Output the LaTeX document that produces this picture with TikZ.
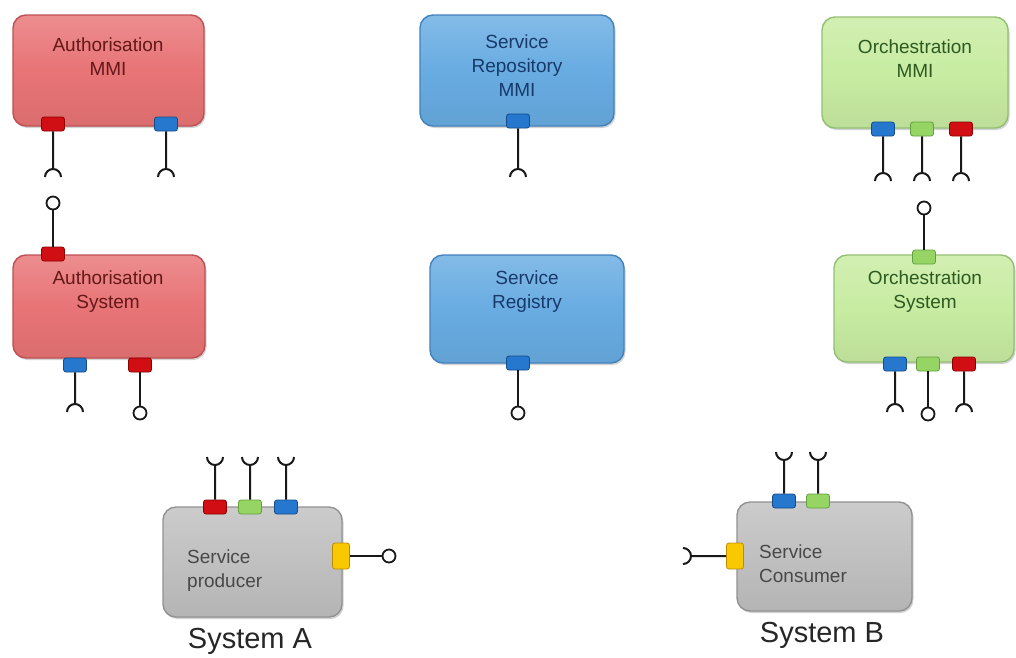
\documentclass[tikz,border=0pt]{standalone}
\usepackage{fontspec}
\setmainfont{Liberation Sans}
\usetikzlibrary{shadows}
\definecolor{rfill}{RGB}{232,116,118}
\definecolor{rdraw}{RGB}{190,80,82}
\definecolor{rtxt}{RGB}{100,24,24}
\definecolor{bfill}{RGB}{104,172,226}
\definecolor{bdraw}{RGB}{66,130,190}
\definecolor{btxt}{RGB}{24,58,106}
\definecolor{gfill}{RGB}{200,236,162}
\definecolor{gdraw}{RGB}{146,192,114}
\definecolor{gtxt}{RGB}{46,90,34}
\definecolor{kfill}{RGB}{192,192,192}
\definecolor{kdraw}{RGB}{146,146,146}
\definecolor{ktxt}{RGB}{72,72,72}
\definecolor{pred}{RGB}{208,14,20}
\definecolor{predd}{RGB}{140,0,0}
\definecolor{pblue}{RGB}{38,120,206}
\definecolor{pblued}{RGB}{20,76,140}
\definecolor{pgreen}{RGB}{150,212,100}
\definecolor{pgreend}{RGB}{100,160,62}
\definecolor{pyel}{RGB}{248,200,0}
\definecolor{pyeld}{RGB}{190,140,0}
\definecolor{lcol}{RGB}{25,25,25}
\tikzset{
  sysbox/.style={rectangle, rounded corners=13pt, line width=1.4pt, inner sep=0pt,
    drop shadow={opacity=0.35, shadow xshift=1.5pt, shadow yshift=-2pt}},
  redbox/.style={sysbox, top color=rfill!82!white, bottom color=rfill!94!black, middle color=rfill, draw=rdraw},
  bluebox/.style={sysbox, top color=bfill!82!white, bottom color=bfill!94!black, middle color=bfill, draw=bdraw},
  greenbox/.style={sysbox, top color=gfill!82!white, bottom color=gfill!94!black, middle color=gfill, draw=gdraw},
  greybox/.style={sysbox, top color=kfill!82!white, bottom color=kfill!94!black, middle color=kfill, draw=kdraw},
  boxtext/.style={align=center, inner sep=0pt, font=\fontsize{19}{24}\selectfont},
  hport/.style={rectangle, rounded corners=2.5pt, minimum width=23pt, minimum height=14pt, inner sep=0pt, line width=0.8pt},
  vport/.style={rectangle, rounded corners=2.5pt, minimum width=17pt, minimum height=26pt, inner sep=0pt, line width=0.8pt},
  redport/.style={hport, fill=pred, draw=predd},
  blueport/.style={hport, fill=pblue, draw=pblued},
  greenport/.style={hport, fill=pgreen, draw=pgreend},
  yelport/.style={vport, fill=pyel, draw=pyeld},
  conn/.style={draw=lcol, line width=2pt},
  lolli/.style={circle, draw=lcol, fill=white, line width=1.8pt, minimum size=13pt, inner sep=0pt}
}
\begin{document}
\begin{tikzpicture}[x=1pt,y=-1pt]
\useasboundingbox[fill=white] (0,0) rectangle (1016,657);
% ---------- boxes ----------
\node[redbox, minimum width=191pt, minimum height=111pt] (authMMI) at (108.5,70.5) {};
\node[redbox, minimum width=192pt, minimum height=103pt] (authSys) at (109,306.5) {};
\node[bluebox, minimum width=194pt, minimum height=111pt] (repoMMI) at (517,70.5) {};
\node[bluebox, minimum width=194pt, minimum height=108pt] (registry) at (527,309) {};
\node[greenbox, minimum width=186pt, minimum height=111pt] (orchMMI) at (915,72.5) {};
\node[greenbox, minimum width=180pt, minimum height=107pt] (orchSys) at (924,308.5) {};
\node[greybox, minimum width=179pt, minimum height=110pt] (producer) at (252.5,562) {};
\node[greybox, minimum width=175pt, minimum height=109pt] (consumer) at (824.5,556.5) {};
% ---------- texts ----------
\node[boxtext, text=rtxt] (authMMIt) at (108,57) {Authorisation\\MMI};
\node[boxtext, text=rtxt] (authSyst) at (108,292) {Authorisation\\System};
\node[boxtext, text=btxt] (repoMMIt) at (517,66) {Service\\Repository\\MMI};
\node[boxtext, text=btxt] (registryt) at (527,292) {Service\\Registry};
\node[boxtext, text=gtxt] (orchMMIt) at (915,59) {Orchestration\\MMI};
\node[boxtext, text=gtxt] (orchSyst) at (925,292) {Orchestration\\System};
\node[boxtext, text=ktxt, align=left, anchor=west] (producert) at (187,571) {Service\\producer};
\node[boxtext, text=ktxt, align=left, anchor=west] (consumert) at (759,564) {Service\\Consumer};
\node[inner sep=0pt, font=\fontsize{29}{34}\selectfont, text=black!85] (sysA) at (250,641) {System A};
\node[inner sep=0pt, font=\fontsize{29}{34}\selectfont, text=black!85] (sysB) at (822,635) {System B};
% ---------- socket end points ----------
\coordinate (s1) at (53,169);
\coordinate (s2) at (166,169);
\coordinate (s3) at (75,404);
\coordinate (s4) at (518,169);
\coordinate (s5) at (883,173);
\coordinate (s6) at (922,173);
\coordinate (s7) at (961,173);
\coordinate (s8) at (895,404);
\coordinate (s9) at (964,404);
\coordinate (u1) at (215,465);
\coordinate (u2) at (250,465);
\coordinate (u3) at (286,465);
\coordinate (u4) at (784,460);
\coordinate (u5) at (818,460);
\coordinate (l1) at (691,556);
% ---------- ports ----------
\node[redport] (pA1) at (53,124) {};
\node[blueport] (pA2) at (166,124) {};
\node[redport] (pB0) at (53,254) {};
\node[blueport] (pB1) at (75,365) {};
\node[redport] (pB2) at (140,365) {};
\node[blueport] (pC1) at (518,121) {};
\node[blueport] (pD1) at (518,363) {};
\node[blueport] (pE1) at (883,129) {};
\node[greenport] (pE2) at (922,129) {};
\node[redport] (pE3) at (961,129) {};
\node[greenport] (pF0) at (924,257) {};
\node[blueport] (pF1) at (895,364) {};
\node[greenport] (pF2) at (928,364) {};
\node[redport] (pF3) at (964,364) {};
\node[redport] (pG1) at (215,507) {};
\node[greenport] (pG2) at (250,507) {};
\node[blueport] (pG3) at (286,507) {};
\node[yelport] (pG4) at (341,556) {};
\node[blueport] (pH1) at (784,501) {};
\node[greenport] (pH2) at (818,501) {};
\node[yelport] (pH4) at (735,556) {};
% ---------- lollipops ----------
\node[lolli] (c1) at (53,203) {};
\node[lolli] (c2) at (140,413) {};
\node[lolli] (c3) at (518,413) {};
\node[lolli] (c4) at (924,208) {};
\node[lolli] (c5) at (928,414) {};
\node[lolli] (c6) at (389,556) {};
% ---------- required interfaces (sockets) ----------
\foreach \p/\s in {pA1/s1, pA2/s2, pB1/s3, pC1/s4, pE1/s5, pE2/s6, pE3/s7, pF1/s8, pF3/s9}{
  \draw[conn] (\p) -- (\s) ++(-8,8) arc[start angle=180, end angle=360, radius=8];
}
\foreach \p/\s in {pG1/u1, pG2/u2, pG3/u3, pH1/u4, pH2/u5}{
  \draw[conn] (\p) -- (\s) ++(-8,-8) arc[start angle=180, end angle=0, radius=8];
}
\draw[conn] (pH4) -- (l1) ++(-8,-8) arc[start angle=-90, end angle=90, radius=8];
% ---------- provided interfaces (lollipops) ----------
\foreach \p/\c in {pB0/c1, pB2/c2, pD1/c3, pF0/c4, pF2/c5, pG4/c6}{
  \draw[conn] (\p) -- (\c);
}
\end{tikzpicture}
\end{document}
